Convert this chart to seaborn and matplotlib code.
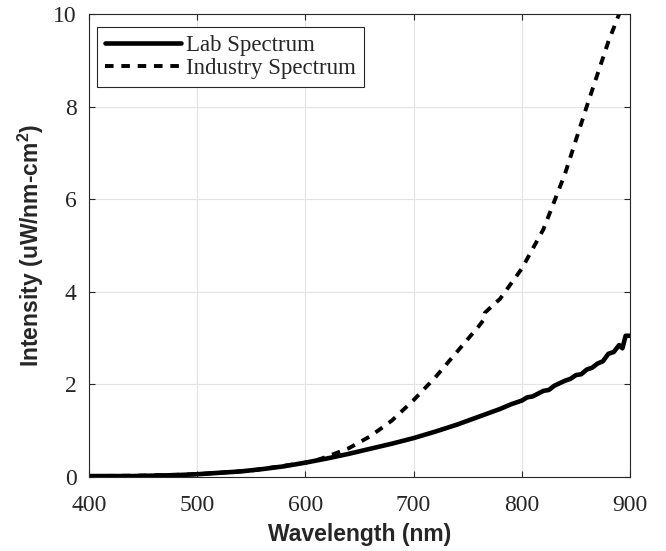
import numpy as np
import pandas as pd
import matplotlib
matplotlib.use('Agg')
import matplotlib.pyplot as plt
import seaborn as sns

# ==== data ====
lab_wl = [400, 420, 440, 460, 480, 500, 520, 540, 560, 580, 600, 620, 640, 660, 680,
          700, 720, 740, 760, 780, 790, 800, 805, 810, 820, 825, 830, 840, 845, 850,
          855, 860, 865, 870, 875, 880, 885, 890, 893, 896, 900]
lab_int = [0.02, 0.02, 0.02, 0.03, 0.04, 0.06, 0.09, 0.12, 0.17, 0.23, 0.31, 0.40, 0.50, 0.61, 0.72,
           0.84, 0.98, 1.13, 1.30, 1.47, 1.57, 1.65, 1.72, 1.74, 1.86, 1.88, 1.97, 2.08, 2.12, 2.20,
           2.22, 2.32, 2.36, 2.45, 2.50, 2.66, 2.70, 2.85, 2.78, 3.05, 3.05]

ind_wl = [400, 450, 500, 550, 600, 610, 620, 640, 660, 680, 700, 720, 740, 760, 765,
          766, 780, 800, 820, 840, 860, 880, 890, 900]
ind_int = [0.02, 0.03, 0.06, 0.14, 0.31, 0.36, 0.44, 0.62, 0.88, 1.22, 1.66, 2.15, 2.70, 3.25, 3.40,
           3.55, 3.85, 4.50, 5.35, 6.55, 8.00, 9.40, 10.00, 10.70]

x_ticks = [400, 500, 600, 700, 800, 900]
y_ticks = [0, 2, 4, 6, 8, 10]

lab_df = pd.DataFrame({'wl': lab_wl, 'val': lab_int})
ind_df = pd.DataFrame({'wl': ind_wl, 'val': ind_int})

sns.set_theme(style='white')
plt.rcParams['font.family'] = ['Liberation Serif', 'DejaVu Serif']
plt.rcParams['mathtext.fontset'] = 'custom'
plt.rcParams['mathtext.rm'] = 'Liberation Sans:bold'
plt.rcParams['mathtext.bf'] = 'Liberation Sans:bold'

fig = plt.figure(figsize=(6.66, 5.51), dpi=100)
ax = fig.add_axes([0.1336, 0.1343, 0.8123, 0.8403])

sns.lineplot(x='wl', y='val', data=lab_df, color='black', linewidth=3.3,
             estimator=None, sort=False, ax=ax, label='Lab Spectrum')
sns.lineplot(x='wl', y='val', data=ind_df, color='black', linewidth=2.8,
             estimator=None, sort=False, ax=ax, label='Industry Spectrum')
ax.lines[1].set_dashes([2.2, 2.0])

ax.set_xlim(400, 900)
ax.set_ylim(0, 10)
ax.set_xticks(x_ticks)
ax.set_yticks(y_ticks)
ax.grid(True, color='#e3e3e3', linewidth=0.8)
ax.set_axisbelow(True)
for s in ax.spines.values():
    s.set_color('#262626')
    s.set_linewidth(0.8)
ax.tick_params(direction='in', length=4, width=0.8, colors='#262626',
               labelcolor='#262626', labelsize=17, top=True, right=True,
               bottom=True, left=True)
ax.tick_params(axis='x', pad=13)
ax.tick_params(axis='y', pad=9)

ax.set_xlabel('Wavelength (nm)', family='Liberation Sans', fontweight='bold',
              fontsize=16.5, color='#262626', labelpad=5)
ax.set_ylabel(r'Intensity (uW/nm-cm$^{2}$)', family='Liberation Sans', fontweight='bold',
              fontsize=16.5, color='#262626', labelpad=5)

leg = ax.legend(loc='upper left', bbox_to_anchor=(0.015, 0.972), fontsize=16.5,
                frameon=True, fancybox=False, edgecolor='#262626', framealpha=1,
                handlelength=3.3, handletextpad=0.25, labelspacing=0.1,
                borderpad=0.35, borderaxespad=0)
leg.get_frame().set_linewidth(0.8)
for t in leg.get_texts():
    t.set_color('#262626')

plt.savefig('out.png', dpi=100)
plt.close()
